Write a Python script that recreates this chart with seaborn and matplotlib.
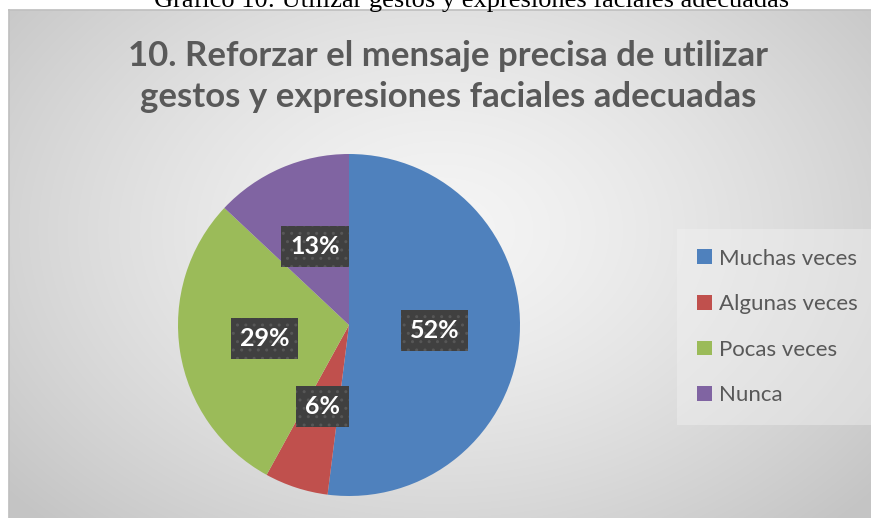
import numpy as np
import pandas as pd
import matplotlib
matplotlib.use("Agg")
import matplotlib.pyplot as plt
import seaborn as sns

#%% Data
caption = "Gráfico 10: Utilizar gestos y expresiones faciales adecuadas"
title = "10. Reforzar el mensaje precisa de utilizar\ngestos y expresiones faciales adecuadas"
categories = ["Muchas veces", "Algunas veces", "Pocas veces", "Nunca"]
percent = [52, 6, 29, 13]
colors = ["#4F81BD", "#C0504D", "#9BBB59", "#8064A2"]

df = pd.DataFrame({"Respuesta": categories, "Porcentaje": percent})

#%% Style
sns.set_theme(style="white")
sns.set_palette(colors)
plt.rcParams["font.family"] = ["Lato", "DejaVu Sans"]

W, H = 871, 518
fig = plt.figure(figsize=(W / 100, H / 100), dpi=100)
fig.patch.set_facecolor("white")

#%% Background panel with radial gradient
px0, py0 = 9, 10  # panel top-left in pixels
bg = fig.add_axes([px0 / W, 0, 1 - px0 / W, 1 - py0 / H])
pw, ph = W - px0, H - py0
yy, xx = np.mgrid[0:ph, 0:pw]
cx, cy = 440 - px0, 230 - py0
d = np.sqrt(((xx - cx) / (pw * 0.66)) ** 2 + ((yy - cy) / (ph * 0.8)) ** 2)
d = np.clip(d, 0, 1)
c0, c1 = 0.96, 0.77
grad = c0 + (c1 - c0) * d ** 1.4
bg.imshow(np.dstack([grad] * 3), aspect="auto", extent=[0, 1, 0, 1])
bg.set_xlim(0, 1)
bg.set_ylim(0, 1)
bg.set_xticks([])
bg.set_yticks([])
for s in bg.spines.values():
    s.set_visible(False)
bg.spines["left"].set_visible(True)
bg.spines["top"].set_visible(True)
bg.spines["left"].set_color("#c0c0c0")
bg.spines["top"].set_color("#c0c0c0")

#%% Caption (cut at top, as in the source page) and title
fig.text(472 / W, 1 - 7 / H, caption, ha="center", va="baseline",
         family=["Liberation Serif"], fontsize=19, color="black")
fig.text(448 / W, 1 - 40 / H, title, ha="center", va="top",
         fontsize=25, fontweight="bold", color="#595959", linespacing=1.33)

#%% Pie
r = 171
pcx, pcy = 349, 325
ax = fig.add_axes([(pcx - r) / W, (H - pcy - r) / H, 2 * r / W, 2 * r / H])
ax.set_facecolor("none")
wedges, texts, autotexts = ax.pie(
    df["Porcentaje"], colors=colors, startangle=90, counterclock=False,
    autopct="%1.0f%%", pctdistance=0.5,
    wedgeprops=dict(linewidth=0),
    textprops=dict(color="white", fontsize=18, fontweight="bold"),
)
for t in autotexts:
    t.set_bbox(dict(boxstyle="square,pad=0.36", fc="#404040", ec="#575757",
                    lw=0, hatch=".."))
ax.set_xlim(-1, 1)
ax.set_ylim(-1, 1)
ax.set_aspect("equal")

#%% Legend
leg = fig.legend(wedges, df["Respuesta"], loc="center left",
                 bbox_to_anchor=(673 / W, 1 - 327 / H), frameon=True,
                 fontsize=16, labelcolor="#595959", handlelength=0.65,
                 handleheight=0.65, handletextpad=0.3, labelspacing=1.15,
                 borderpad=0.6)
leg.get_frame().set_facecolor("#f4f4f4")
leg.get_frame().set_alpha(0.4)
leg.get_frame().set_linewidth(0)
leg.get_frame().set_boxstyle("square")

fig.savefig("out.png", dpi=100)
